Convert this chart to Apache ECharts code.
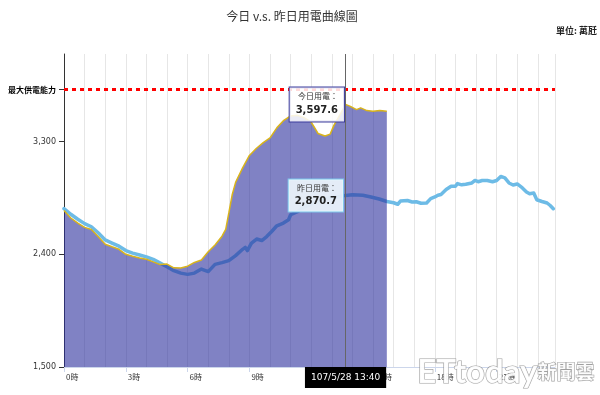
<!DOCTYPE html>
<html><head><meta charset="utf-8">
<script src="https://cdn.jsdelivr.net/npm/echarts@6/dist/echarts.min.js"></script>
<style>html,body{margin:0;padding:0;background:#fff}#c{width:600px;height:395px}</style>
</head><body><div id="c"></div>
<script>
// ---- data ----
const titleText = '今日 v.s. 昨日用電曲線圖';
const unitText = '單位: 萬瓩';
const maxSupplyLabel = '最大供電能力';
const maxSupply = 3716;
const xTickHours = [0, 3, 6, 9, 12, 15, 18, 21];
const yTickValues = [1500, 2400, 3300];
const currentHour = 13 + 40 / 60;
const currentLabel = '107/5/28 13:40';
const todayNow = 3597.6;
const yesterdayNow = 2870.7;

const todayHours = [0, 0.33, 0.67, 1, 1.33, 1.67, 2, 2.33, 2.67, 3, 3.33, 3.67, 4, 4.33, 4.67, 5, 5.33, 5.67,
  6, 6.33, 6.67, 7, 7.33, 7.67, 7.85, 8, 8.17, 8.33, 8.67, 9, 9.33, 9.67, 10, 10.33, 10.67, 11, 11.33, 11.67,
  12, 12.17, 12.33, 12.67, 12.92, 13.1, 13.4, currentHour, 13.9, 14.2, 14.4, 14.7, 15, 15.33, 15.67];
const todayValues = [2750, 2690, 2650, 2615, 2598, 2540, 2480, 2460, 2440, 2400, 2385, 2370, 2360, 2340, 2318, 2322, 2292, 2290,
  2305, 2335, 2355, 2420, 2475, 2545, 2600, 2730, 2880, 2975, 3090, 3190, 3245, 3292, 3330, 3410, 3470, 3505, 3510, 3490,
  3455, 3410, 3365, 3345, 3360, 3430, 3516, todayNow, 3582, 3556, 3570, 3548, 3542, 3548, 3542];

const yesterdayHours = [0, 0.33, 0.67, 1, 1.33, 1.67, 2, 2.33, 2.67, 3, 3.33, 3.67, 4, 4.33, 4.67, 5, 5.33, 5.67,
  6, 6.33, 6.67, 7, 7.33, 7.67, 8, 8.33, 8.67, 8.8, 8.9, 9.1, 9.35, 9.6, 9.84, 10.08, 10.33, 10.65, 10.9, 11, 11.33, 11.67,
  12, 12.33, 12.67, 13, 13.33, currentHour, 14, 14.5, 14.9, 15.3, 15.67, 16, 16.2, 16.33, 16.67, 16.9, 17.1, 17.33, 17.6,
  17.8, 18, 18.15, 18.3, 18.55, 18.79, 19, 19.1, 19.3, 19.5, 19.8, 19.95, 20.1, 20.3, 20.55, 20.8, 21, 21.2, 21.4, 21.6,
  21.8, 22, 22.25, 22.45, 22.6, 22.8, 22.95, 23.2, 23.45, 23.6, 23.75];
const yesterdayValues = [2765, 2720, 2680, 2645, 2620, 2570, 2515, 2490, 2465, 2430, 2410, 2395, 2380, 2360, 2330, 2300, 2270, 2250,
  2240, 2250, 2282, 2262, 2320, 2334, 2350, 2390, 2440, 2455, 2430, 2490, 2522, 2510, 2542, 2582, 2628, 2650, 2676, 2716, 2740, 2780,
  2800, 2825, 2845, 2855, 2860, yesterdayNow, 2876, 2872, 2858, 2842, 2822, 2812, 2800, 2825, 2830, 2818, 2820, 2808, 2810,
  2845, 2858, 2872, 2878, 2918, 2944, 2944, 2965, 2955, 2960, 2970, 2990, 2980, 2990, 2990, 2980, 2990, 3022, 3010, 2970,
  2954, 2962, 2930, 2898, 2884, 2890, 2836, 2822, 2810, 2790, 2764];

// ---- chart ----
const maxHour = 23 + 50 / 60;
const pairs = (xs, ys) => xs.map((x, i) => [x, ys[i]]);
const fmt = v => v.toLocaleString('en-US', {minimumFractionDigits: 1, maximumFractionDigits: 1});

const chart = echarts.init(document.getElementById('c'));
chart.setOption({
  animation: false,
  title: {
    text: titleText, left: 287, top: 5, textAlign: 'center',
    textStyle: {fontFamily: 'Noto Sans CJK TC', fontSize: 12, fontWeight: 'normal', color: '#333'}
  },
  graphic: [
    {type: 'text', right: 3, top: 26, style: {text: unitText, font: 'bold 9px "Noto Sans CJK TC"', fill: '#222'}},
    {type: 'text', right: 5, bottom: 6, z: 100, style: {
      text: '{a|ETtoday}{b|新聞雲}', fill: 'rgba(255,255,255,0.92)', stroke: 'rgba(120,120,120,0.7)', lineWidth: 1.2,
      rich: {a: {font: 'bold 33px Lato', fill: 'rgba(255,255,255,0.92)'}, b: {font: 'bold 19px "Noto Sans CJK TC"', fill: 'rgba(255,255,255,0.92)'}}
    }}
  ],
  grid: {left: 64, top: 54, right: 45, bottom: 28},
  xAxis: [
    {
      type: 'value', min: 0, max: maxHour,
      axisLine: {show: true, lineStyle: {color: '#ccd6eb', width: 1}},
      axisTick: {show: true, customValues: xTickHours, length: 5, lineStyle: {color: '#ccd6eb'}},
      axisLabel: {customValues: xTickHours, formatter: v => v + '時', align: 'left', margin: 6, padding: [0, 0, 0, 2],
        fontFamily: 'Noto Sans CJK TC', fontSize: 8, color: '#333'},
      splitLine: {show: false},
      axisPointer: {
        show: true, value: currentHour, status: 'show', snap: false, triggerTooltip: false,
        lineStyle: {color: '#666', width: 1, type: 'solid'},
        label: {show: true, formatter: () => currentLabel, backgroundColor: '#000', color: '#fff',
          fontFamily: 'DejaVu Sans', fontSize: 9, padding: [6, 6, 6, 6], margin: 0, borderRadius: 0}
      }
    },
    {
      type: 'value', min: 0, max: maxHour, interval: 1, position: 'bottom',
      axisLine: {show: false}, axisTick: {show: false}, axisLabel: {show: false},
      splitLine: {show: true, lineStyle: {color: '#e6e6e6', width: 1}}
    }
  ],
  yAxis: {
    type: 'value', min: 1500, max: 4000,
    axisLine: {show: true, lineStyle: {color: '#333', width: 1}},
    axisTick: {show: true, customValues: yTickValues.concat([maxSupply]), length: 5, lineStyle: {color: '#333'}},
    axisLabel: {
      customValues: yTickValues.concat([maxSupply]), margin: 8,
      formatter: v => v === maxSupply ? '{m|' + maxSupplyLabel + '}' : v.toLocaleString('en-US'),
      fontFamily: 'DejaVu Sans', fontSize: 8, color: '#333',
      rich: {m: {fontFamily: 'Noto Sans CJK TC', fontSize: 8, fontWeight: 'bold', color: '#000'}}
    },
    splitLine: {show: false}
  },
  series: [
    {
      name: '昨日用電', type: 'line', z: 2, data: pairs(yesterdayHours, yesterdayValues),
      showSymbol: false, symbol: 'none',
      lineStyle: {color: '#6dbbe6', width: 3.5, join: 'round', cap: 'round'},
      markLine: {
        silent: true, symbol: 'none', label: {show: false},
        lineStyle: {color: '#ff0000', width: 3, type: [4, 4]},
        data: [{yAxis: maxSupply}]
      }
    },
    {
      name: '今日用電', type: 'line', z: 3, data: pairs(todayHours, todayValues),
      showSymbol: false, symbol: 'none',
      lineStyle: {color: '#d9b41c', width: 1.5},
      areaStyle: {color: 'rgb(43,47,157)', opacity: 0.6, origin: 'start'},
      markPoint: {
        silent: true, symbol: 'circle', symbolSize: 1, itemStyle: {color: 'rgba(0,0,0,0)'},
        data: [
          {coord: [currentHour, todayNow], value: todayNow,
            label: {show: true, position: 'left', distance: 1,
              formatter: p => '{a|今日用電：}\n{b|' + fmt(p.value) + '}',
              backgroundColor: 'rgba(255,255,255,0.85)', borderColor: '#3d3d9e', borderWidth: 1,
              padding: [3, 6, 3, 6],
              rich: {a: {fontFamily: 'Noto Sans CJK TC', fontSize: 8, color: '#333', lineHeight: 12},
                b: {fontFamily: 'DejaVu Sans', fontSize: 10, fontWeight: 'bold', color: '#222', lineHeight: 16}}}},
          {coord: [currentHour, yesterdayNow], value: yesterdayNow,
            label: {show: true, position: 'left', distance: 2,
              formatter: p => '{a|昨日用電：}\n{b|' + fmt(p.value) + '}',
              backgroundColor: 'rgba(240,248,253,0.9)', borderColor: '#7cc6ec', borderWidth: 1,
              padding: [3, 6, 2, 6],
              rich: {a: {fontFamily: 'Noto Sans CJK TC', fontSize: 8, color: '#333', lineHeight: 12},
                b: {fontFamily: 'DejaVu Sans', fontSize: 10, fontWeight: 'bold', color: '#222', lineHeight: 15}}}}
        ]
      }
    }
  ]
});
</script>
</body></html>
